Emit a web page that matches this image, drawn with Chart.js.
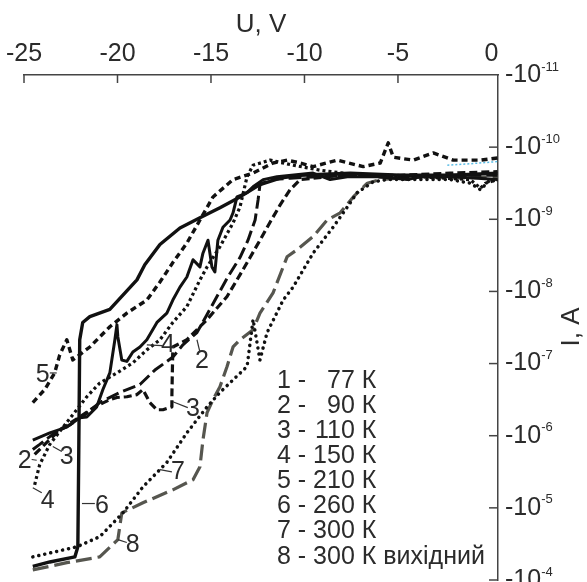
<!DOCTYPE html>
<html>
<head>
<meta charset="utf-8">
<script src="https://cdn.jsdelivr.net/npm/chart.js@4.4.1/dist/chart.umd.min.js"></script>
<style>
  body { margin: 0; background: #fff; }
  canvas { display: block; }
</style>
</head>
<body>
<canvas id="chartCanvas" width="587" height="582"></canvas>
<script>
// axis ticks
const xTicks = [-25, -20, -15, -10, -5, 0];
const yExponents = [-11, -10, -9, -8, -7, -6, -5, -4];

// legend
const curveNums = ['1', '2', '3', '4', '5', '6', '7', '8'];
const temps = ['77', '90', '110', '150', '210', '260', '300', '300'];
const notes = ['', '', '', '', '', '', '', ' вихідний'];

// U (V) and lg|I| (I in A)
const u1 = [-24.53, -23.62, -22.71, -22.02, -21.64, -21.11, -20.78, -20.41, -20.14, -20.03, -19.98, -19.77, -19.50, -19.18, -18.80, -18.43, -17.89, -17.36, -17.04, -16.66, -16.29, -15.96, -15.59, -15.43, -15.16, -14.95, -14.79, -14.63, -14.36, -13.98, -13.82, -13.61, -13.34, -13.07, -12.75, -12.21, -11.47, -9.54, -8.63, -7.71, -5.95, -4.50, -3.81, -2.04, 0.32];
const lg1 = [-5.94, -6.04, -6.12, -6.25, -6.26, -6.40, -6.64, -6.87, -7.33, -7.54, -7.37, -7.05, -7.03, -7.16, -7.23, -7.33, -7.57, -7.70, -7.88, -8.06, -8.20, -8.44, -8.34, -8.53, -8.71, -8.34, -8.27, -8.71, -8.89, -8.99, -9.09, -9.31, -9.34, -9.37, -9.45, -9.55, -9.59, -9.64, -9.55, -9.59, -9.59, -9.55, -9.59, -9.59, -9.55];

const u2 = [-24.53, -24.16, -23.36, -22.55, -21.75, -20.95, -19.87, -18.80, -18.00, -17.04, -16.50, -15.75, -15.21, -14.68, -14.10, -13.45, -13.02, -12.64, -12.48, -12.38, -11.84, -10.77, -7.55, -4.88, -2.20, 0.32];
const lg2 = [-5.81, -5.88, -6.04, -6.15, -6.29, -6.46, -6.60, -6.71, -6.91, -7.09, -7.26, -7.43, -7.68, -7.93, -8.20, -8.47, -8.71, -8.99, -9.27, -9.48, -9.55, -9.57, -9.61, -9.57, -9.61, -9.61];

const u3 = [-24.43, -23.89, -23.09, -22.02, -21.21, -20.41, -20.03, -19.50, -18.96, -18.64, -18.27, -17.89, -17.57, -17.09, -17.09, -17.04, -16.29, -15.21, -14.14, -13.45, -12.91, -12.38, -11.84, -11.30, -10.77, -10.23, -8.09, -4.88, -2.20, 0.32];
const lg3 = [-5.74, -5.88, -6.08, -6.26, -6.40, -6.50, -6.53, -6.54, -6.57, -6.64, -6.46, -6.36, -6.36, -6.40, -6.57, -7.23, -7.33, -7.61, -7.93, -8.23, -8.47, -8.71, -8.96, -9.20, -9.41, -9.55, -9.61, -9.61, -9.64, -9.66];

const u4 = [-24.43, -24.16, -23.62, -22.82, -22.18, -21.64, -20.95, -20.03, -19.18, -18.43, -17.73, -17.04, -16.29, -15.59, -15.21, -14.52, -13.82, -13.45, -13.07, -12.75, -11.84, -10.61, -9.16, -7.02, -3.81, -1.13, -0.59, -0.32, 0.32];
const lg4 = [-5.32, -5.60, -5.88, -6.15, -6.36, -6.54, -6.73, -6.87, -7.01, -7.19, -7.33, -7.57, -7.79, -8.16, -8.34, -8.62, -8.95, -9.17, -9.59, -9.75, -9.82, -9.75, -9.68, -9.61, -9.59, -9.55, -9.43, -9.50, -9.55];

const u5 = [-24.53, -23.89, -23.36, -23.09, -22.71, -22.39, -21.48, -20.41, -19.50, -18.43, -17.73, -17.04, -16.29, -15.59, -14.89, -13.82, -12.75, -11.68, -10.93, -10.23, -9.54, -8.25, -6.86, -5.95, -5.52, -5.25, -4.18, -3.11, -2.04, -0.59, 0.32];
const lg5 = [-6.46, -6.64, -6.87, -7.12, -7.33, -7.05, -7.23, -7.51, -7.70, -7.88, -8.13, -8.40, -8.67, -8.99, -9.31, -9.55, -9.64, -9.78, -9.82, -9.78, -9.73, -9.82, -9.73, -9.78, -10.06, -9.86, -9.82, -9.92, -9.82, -9.82, -9.85];

const u6 = [-24.53, -23.62, -22.28, -22.12, -22.07, -22.02, -21.86, -21.48, -20.41, -18.96, -18.54, -17.73, -16.66, -15.59, -14.52, -13.45, -12.38, -11.30, -10.23, -7.55, -4.88, -2.20, 0.32];
const lg6 = [-4.19, -4.25, -4.32, -4.46, -5.81, -7.33, -7.57, -7.65, -7.75, -8.16, -8.37, -8.65, -8.88, -9.02, -9.16, -9.31, -9.48, -9.57, -9.61, -9.64, -9.61, -9.61, -9.64];

const u7 = [-24.53, -22.18, -20.95, -19.71, -18.64, -17.36, -16.29, -15.21, -14.52, -13.07, -12.75, -12.38, -12.00, -11.14, -10.61, -9.54, -8.47, -7.71, -7.18, -6.32, -5.57, -2.20, -1.13, -0.59, -0.06, 0.32];
const lg7 = [-4.32, -4.46, -4.60, -4.93, -5.29, -5.63, -6.04, -6.40, -6.60, -6.96, -7.61, -7.05, -7.43, -7.88, -8.06, -8.53, -8.89, -9.17, -9.37, -9.52, -9.55, -9.55, -9.50, -9.41, -9.55, -9.52];

const u8 = [-24.53, -22.71, -20.95, -19.98, -19.77, -18.64, -17.04, -15.96, -15.59, -15.43, -15.21, -14.89, -14.52, -14.14, -13.82, -13.45, -12.75, -12.38, -11.68, -10.93, -10.39, -9.54, -8.79, -8.09, -7.39, -6.64, -5.95, -3.81, -1.66, 0.32];
const lg8 = [-4.14, -4.24, -4.32, -4.56, -4.93, -5.07, -5.25, -5.39, -5.57, -5.94, -6.32, -6.50, -6.68, -6.96, -7.23, -7.33, -7.47, -7.70, -7.98, -8.48, -8.58, -8.76, -8.99, -9.09, -9.31, -9.50, -9.55, -9.59, -9.57, -9.59];

// thin blue trace near the right end
const uBlue = [-2.36, -1.13, 0.32];
const lgBlue = [-9.75, -9.77, -9.80];

// curve numbers written on the plot: text point, leader start, leader end (U, lg|I|)
const tags = [
    ['5', -24.0, -6.84, -23.62, -6.87, -23.25, -6.87],
    ['2', -24.96, -5.65, -24.59, -5.67, -24.32, -5.66],
    ['3', -22.71, -5.71, -23.46, -5.85, -22.98, -5.78],
    ['4', -23.73, -5.09, -24.53, -5.28, -24.05, -5.21],
    ['6', -20.83, -5.03, -21.90, -5.06, -21.21, -5.06],
    ['7', -16.77, -5.50, -17.73, -5.53, -17.09, -5.50],
    ['8', -19.18, -4.49, -19.98, -4.56, -19.50, -4.52],
    ['2', -15.48, -7.03, -15.75, -7.33, -15.59, -7.16],
    ['3', -15.96, -6.37, -17.04, -6.47, -16.24, -6.39],
    ['4', -17.30, -7.25, -18.43, -7.26, -17.62, -7.25]
];

const textColor = '#2b2b2b';
const axisColor = '#444';
const fontName = '"Liberation Sans", Arial, sans-serif';

function points(us, lgs) {
    return us.map((u, i) => ({x: u, y: Math.pow(10, lgs[i])}));
}

function line(label, us, lgs, color, width, dash, cap) {
    return {
        label: label,
        data: points(us, lgs),
        borderColor: color,
        borderWidth: width,
        borderDash: dash,
        borderCapStyle: cap || 'butt',
        borderJoinStyle: 'round',
        pointRadius: 0,
        tension: 0,
        fill: false
    };
}

const datasets = [
    line('1', u1, lg1, '#111', 3, []),
    line('2', u2, lg2, '#111', 3, [13, 5]),
    line('3', u3, lg3, '#111', 3.2, [8, 4]),
    line('4', u4, lg4, '#111', 3.2, [3, 3]),
    line('5', u5, lg5, '#111', 3.4, [6, 4]),
    line('6', u6, lg6, '#111', 3.4, []),
    line('7', u7, lg7, '#111', 3.5, [0.1, 6], 'round'),
    line('8', u8, lg8, '#56564f', 3.2, [16, 6]),
    line('', uBlue, lgBlue, '#5bbde6', 1.5, [2, 2])
];

const decor = {
    id: 'decor',
    afterDraw(chart) {
        const ctx = chart.ctx;
        const a = chart.chartArea;
        const x = chart.scales.x;
        const y = chart.scales.y;
        ctx.save();

        // inward tick marks
        ctx.strokeStyle = axisColor;
        ctx.lineWidth = 1.5;
        xTicks.forEach(v => {
            if (v === 0) return;
            const px = x.getPixelForValue(v);
            ctx.beginPath();
            ctx.moveTo(px, a.top);
            ctx.lineTo(px, a.top + 8);
            ctx.stroke();
        });
        yExponents.forEach(e => {
            if (e === -11) return;
            const py = y.getPixelForValue(Math.pow(10, e));
            ctx.beginPath();
            ctx.moveTo(a.right - 9, py);
            ctx.lineTo(a.right, py);
            ctx.stroke();
        });

        // y labels -10^n
        ctx.fillStyle = textColor;
        ctx.textAlign = 'left';
        ctx.textBaseline = 'middle';
        yExponents.forEach(e => {
            const py = y.getPixelForValue(Math.pow(10, e));
            ctx.font = '25px ' + fontName;
            ctx.fillText('-10', a.right + 7, py);
            const w = ctx.measureText('-10').width;
            ctx.font = '13px ' + fontName;
            ctx.fillText(String(e), a.right + 7 + w, py - 8);
        });

        // y title
        ctx.save();
        ctx.translate(572, 327);
        ctx.rotate(-Math.PI / 2);
        ctx.textAlign = 'center';
        ctx.font = '26px ' + fontName;
        ctx.fillText('I, A', 0, 0);
        ctx.restore();

        // curve numbers with leaders
        ctx.font = '25px ' + fontName;
        ctx.textAlign = 'center';
        ctx.lineWidth = 1.2;
        ctx.strokeStyle = '#333';
        tags.forEach(t => {
            ctx.fillText(t[0], x.getPixelForValue(t[1]), y.getPixelForValue(Math.pow(10, t[2])));
            ctx.beginPath();
            ctx.moveTo(x.getPixelForValue(t[3]), y.getPixelForValue(Math.pow(10, t[4])));
            ctx.lineTo(x.getPixelForValue(t[5]), y.getPixelForValue(Math.pow(10, t[6])));
            ctx.stroke();
        });

        // legend block
        ctx.font = '25px ' + fontName;
        const lx = 277;
        const edge = lx + ctx.measureText('1 - 300').width;
        curveNums.forEach((n, i) => {
            const ly = 381 + i * 25.1;
            ctx.textAlign = 'left';
            ctx.fillText(n + ' -', lx, ly);
            ctx.textAlign = 'right';
            ctx.fillText(temps[i], edge, ly);
            ctx.textAlign = 'left';
            ctx.fillText(' К' + notes[i], edge, ly);
        });

        ctx.restore();
    }
};

new Chart(document.getElementById('chartCanvas'), {
    type: 'line',
    data: {datasets: datasets},
    options: {
        responsive: false,
        animation: false,
        layout: {padding: {left: 24, right: 0, top: 0, bottom: 2}},
        plugins: {legend: {display: false}, tooltip: {enabled: false}},
        scales: {
            x: {
                type: 'linear',
                position: 'top',
                min: -25,
                max: 0.35,
                afterBuildTicks: s => { s.ticks = xTicks.map(v => ({value: v})); },
                afterFit: s => { s.height = 75; },
                grid: {display: false},
                border: {display: true, color: axisColor, width: 1.5},
                ticks: {
                    padding: 0,
                    color: textColor,
                    font: {family: fontName, size: 25, lineHeight: 1},
                    maxRotation: 0,
                    callback: v => String(v)
                },
                title: {
                    display: true,
                    text: 'U, V',
                    color: textColor,
                    font: {family: fontName, size: 26, lineHeight: 1},
                    padding: {top: 12, bottom: 0}
                }
            },
            y: {
                type: 'logarithmic',
                position: 'right',
                reverse: true,
                min: 1e-11,
                max: 1e-4,
                afterBuildTicks: s => { s.ticks = yExponents.map(e => ({value: Math.pow(10, e)})); },
                afterFit: s => { s.width = 89; },
                grid: {display: false},
                border: {display: true, color: axisColor, width: 1.5},
                ticks: {display: false}
            }
        }
    },
    plugins: [decor]
});
</script>
</body>
</html>
